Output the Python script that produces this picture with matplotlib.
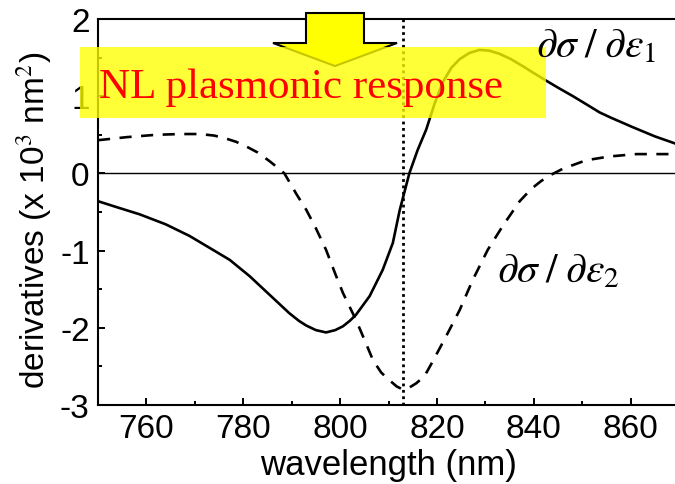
import matplotlib
matplotlib.use("Agg")
import matplotlib.pyplot as plt
from matplotlib.patches import Rectangle, Polygon
from matplotlib.ticker import MultipleLocator

plt.rcParams['font.family'] = ['Liberation Sans', 'DejaVu Sans']
plt.rcParams['axes.unicode_minus'] = False
plt.rcParams['mathtext.fontset'] = 'stix'

# ---- data ----
wl_e1 = [750, 754, 758.6, 764, 768.9, 774, 777.2, 781.3, 785.4, 789.5, 791.5, 793.0,
         795, 797.1, 799, 800.6, 802, 803.3, 806.1, 808.8, 810.9, 812.3, 814.3, 816,
         817.8, 819.5, 821.2, 823, 824.7, 826.7, 828.8, 830.8, 832.9, 835.3, 837.7,
         840, 842.6, 845.3, 848.1, 851, 853.6, 856, 860.4, 865, 870]
d_e1 = [-0.36, -0.44, -0.53, -0.66, -0.81, -1.00, -1.12, -1.33, -1.57, -1.81, -1.91, -1.97,
        -2.03, -2.06, -2.03, -1.98, -1.91, -1.83, -1.59, -1.25, -0.90, -0.48, 0.0, 0.30,
        0.57, 0.90, 1.18, 1.37, 1.48, 1.56, 1.60, 1.59, 1.55, 1.48, 1.39,
        1.30, 1.20, 1.10, 1.00, 0.89, 0.79, 0.72, 0.60, 0.48, 0.37]

wl_e2 = [750, 756, 762, 767, 771, 774, 776.5, 778.5, 780.6, 783, 785.4, 787, 788.5,
         791, 793.0, 795, 797.1, 799, 800.6, 803.3, 805, 806.8, 808.5, 810.2, 811.7,
         813.0, 814.4, 815.7, 817.4, 819, 821.9, 824.7, 827.4, 830.5, 833.6, 837.1,
         839.5, 841.5, 843.5, 846.0, 850.8, 855.7, 861.2, 867.4, 870]
d_e2 = [0.43, 0.47, 0.50, 0.51, 0.51, 0.49, 0.45, 0.41, 0.35, 0.27, 0.16, 0.08, 0.0,
        -0.27, -0.47, -0.71, -0.99, -1.30, -1.55, -1.90, -2.15, -2.42, -2.58, -2.68, -2.76,
        -2.80, -2.77, -2.72, -2.63, -2.45, -2.11, -1.77, -1.38, -0.99, -0.68, -0.36,
        -0.20, -0.10, -0.02, 0.06, 0.17, 0.22, 0.25, 0.25, 0.25]

marker_wl = 813
x_ticks = [760, 780, 800, 820, 840, 860]
y_ticks = [-3, -2, -1, 0, 1, 2]

W, H = 675, 485
fig = plt.figure(figsize=(W / 100, H / 100), dpi=100)

def fx(px):
    return px / W

def fy(py):
    return 1 - py / H

ax = fig.add_axes([fx(98), fy(406), fx(679) - fx(98), fy(20) - fy(406)])
ax.plot(wl_e1, d_e1, color='black', lw=1.9, solid_joinstyle='round')
ax.plot(wl_e2, d_e2, color='black', lw=1.9, dashes=(4.6, 3.6))
ax.axhline(0, color='black', lw=1.0)
ax.axvline(marker_wl, color='black', lw=2.0, linestyle=(0, (1, 1.3)))

ax.set_xlim(750, 870)
ax.set_ylim(-3, 2)
ax.set_xticks(x_ticks)
ax.set_yticks(y_ticks)
ax.xaxis.set_minor_locator(MultipleLocator(10))
ax.yaxis.set_minor_locator(MultipleLocator(0.5))
ax.tick_params(which='both', direction='in', top=False, right=False, width=1.4,
               labelsize=24)
ax.tick_params(which='major', length=5, pad=6)
ax.tick_params(which='minor', length=3)
for s in ax.spines.values():
    s.set_linewidth(1.5)

ax.set_xlabel('wavelength (nm)', fontsize=25)
ax.set_ylabel(r'derivatives (x 10$^3$ nm$^2$)', fontsize=24)
ax.xaxis.set_label_coords((388 - 98) / 581, (406 - 466) / 386)
ax.xaxis.label.set_va('center')
ax.yaxis.set_label_coords((34 - 98) / 581, (406 - 220) / 386)
ax.yaxis.label.set_va('center')

# arrow (figure level)
arrow_px = [(306, 14), (364, 14), (364, 44), (397, 44), (335, 67), (273, 44), (306, 44)]
arrow = Polygon([(fx(x), fy(y)) for x, y in arrow_px], closed=True,
                transform=fig.transFigure, facecolor='#ffff00', edgecolor='black',
                lw=1.5, zorder=4)
fig.patches.append(arrow)

rect = Rectangle((fx(80), fy(119)), fx(546) - fx(80), fy(48) - fy(119),
                 transform=fig.transFigure, facecolor='#ffff00', edgecolor='none',
                 alpha=0.78, zorder=5)
fig.patches.append(rect)

fig.text(fx(99), fy(98), 'NL plasmonic response', color='red', fontsize=31,
         family=['Liberation Serif', 'DejaVu Serif'], ha='left', va='baseline', zorder=6)

fig.text(fx(536), fy(57), r'$\partial\sigma\;/\;\partial\varepsilon_1$', fontsize=30,
         ha='left', va='baseline', zorder=6)
fig.text(fx(497), fy(282), r'$\partial\sigma\;/\;\partial\varepsilon_2$', fontsize=30,
         ha='left', va='baseline', zorder=6)

fig.savefig('out.png', dpi=100)
